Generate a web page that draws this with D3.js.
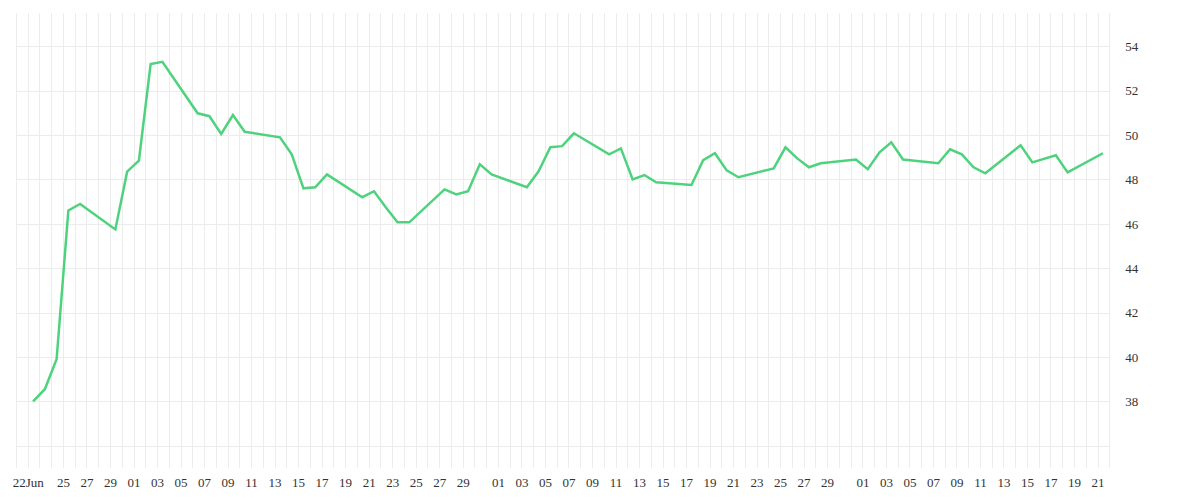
<!DOCTYPE html>
<html><head><meta charset="utf-8">
<script src="https://cdn.jsdelivr.net/npm/d3@7"></script>
<style>body{margin:0;background:#fff}</style></head>
<body><svg id="c" width="1200" height="500"></svg>
<script>
const dates = ["2023-06-22","2023-06-23","2023-06-24","2023-06-25","2023-06-26","2023-06-29","2023-06-30","2023-07-01","2023-07-02","2023-07-03","2023-07-06","2023-07-07","2023-07-08","2023-07-09","2023-07-10","2023-07-13","2023-07-14","2023-07-15","2023-07-16","2023-07-17","2023-07-20","2023-07-21","2023-07-22","2023-07-23","2023-07-24","2023-07-27","2023-07-28","2023-07-29","2023-07-30","2023-07-31","2023-08-03","2023-08-04","2023-08-05","2023-08-06","2023-08-07","2023-08-10","2023-08-11","2023-08-12","2023-08-13","2023-08-14","2023-08-17","2023-08-18","2023-08-19","2023-08-20","2023-08-21","2023-08-24","2023-08-25","2023-08-26","2023-08-27","2023-08-28","2023-08-31","2023-09-01","2023-09-02","2023-09-03","2023-09-04","2023-09-07","2023-09-08","2023-09-09","2023-09-10","2023-09-11","2023-09-14","2023-09-15","2023-09-17","2023-09-18","2023-09-21"];
const values = [38.0,38.55,39.9,46.6,46.9,45.75,48.35,48.85,53.2,53.3,50.98,50.85,50.05,50.9,50.15,49.9,49.13,47.6,47.65,48.23,47.2,47.47,46.75,46.07,46.07,47.55,47.33,47.47,48.68,48.23,47.65,48.37,49.45,49.5,50.08,49.13,49.4,48.0,48.2,47.87,47.75,48.87,49.18,48.41,48.1,48.5,49.45,48.95,48.55,48.73,48.9,48.46,49.22,49.67,48.9,48.73,49.36,49.13,48.55,48.28,49.54,48.77,49.09,48.32,49.18];
const tickDates = ["2023-06-22","2023-06-25","2023-06-27","2023-06-29","2023-07-01","2023-07-03","2023-07-05","2023-07-07","2023-07-09","2023-07-11","2023-07-13","2023-07-15","2023-07-17","2023-07-19","2023-07-21","2023-07-23","2023-07-25","2023-07-27","2023-07-29","2023-08-01","2023-08-03","2023-08-05","2023-08-07","2023-08-09","2023-08-11","2023-08-13","2023-08-15","2023-08-17","2023-08-19","2023-08-21","2023-08-23","2023-08-25","2023-08-27","2023-08-29","2023-09-01","2023-09-03","2023-09-05","2023-09-07","2023-09-09","2023-09-11","2023-09-13","2023-09-15","2023-09-17","2023-09-19","2023-09-21"];
const yTicks = [38,40,42,44,46,48,50,52,54];

const parse = d3.timeParse("%Y-%m-%d");
const svg = d3.select("#c");
const x = d3.scaleTime().domain([parse("2023-06-22"), parse("2023-09-21")]).range([27.7, 1097.5]);
const y = d3.scaleLinear().domain([35, 55.5]).range([468, 13]);
const x0 = x(parse("2023-06-21")), x1 = x(parse("2023-09-22"));

const grid = svg.append("g").attr("stroke","#ececec").attr("stroke-width",1);
d3.timeDay.range(parse("2023-06-21"), d3.timeDay.offset(parse("2023-09-22"),1)).forEach(d=>{
  grid.append("line").attr("x1",Math.round(x(d))+0.5).attr("x2",Math.round(x(d))+0.5).attr("y1",y(55.5)).attr("y2",y(35));
});
d3.range(36,56,2).forEach(v=>{
  grid.append("line").attr("x1",x0).attr("x2",x1).attr("y1",Math.round(y(v))+0.5).attr("y2",Math.round(y(v))+0.5);
});

const fmt = d => (d.getMonth()===5 && d.getDate()===22) ? "22Jun" : d3.timeFormat("%d")(d);
const xAxis = d3.axisBottom(x).tickValues(tickDates.map(parse)).tickFormat(fmt).tickSize(0).tickPadding(8);
const gx = svg.append("g").attr("transform","translate(0,470)").call(xAxis);
gx.select(".domain").remove();
gx.selectAll("text").attr("font-family","Liberation Serif, serif").attr("font-size",13).attr("fill","#333");

const yAxis = d3.axisRight(y).tickValues(yTicks).tickSize(0).tickPadding(8);
const gy = svg.append("g").attr("transform",`translate(${x1+8},0)`).call(yAxis);
gy.select(".domain").remove();
gy.selectAll("text").attr("font-family","Liberation Serif, serif").attr("font-size",13).attr("fill","#333");

const pts = dates.map((d,i)=>({d:d3.timeHour.offset(parse(d),11),v:values[i]}));
svg.append("path").datum(pts).attr("fill","none").attr("stroke","#4fd27e").attr("stroke-width",2.5)
  .attr("stroke-linejoin","miter")
  .attr("d", d3.line().x(p=>x(p.d)).y(p=>y(p.v)));
</script></body></html>
